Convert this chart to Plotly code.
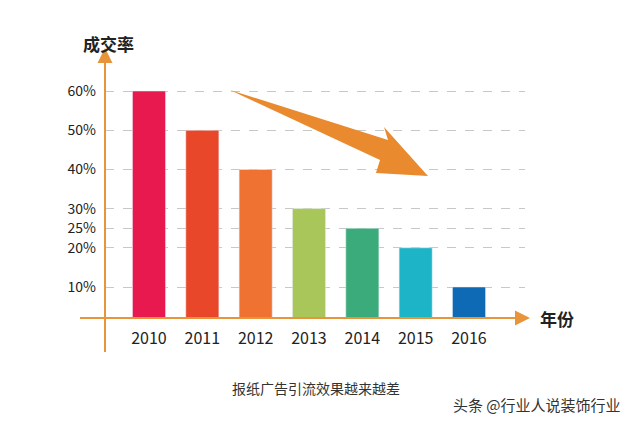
import plotly.graph_objects as go

years = ["2010", "2011", "2012", "2013", "2014", "2015", "2016"]
rates = [60, 50, 40, 30, 25, 20, 10]
colors = ["#E8194F", "#E8472A", "#F07232", "#A9C65A", "#3CAB7B", "#1DB4C8", "#0F6AB5"]
tick_vals = [10, 20, 25, 30, 40, 50, 60]
tick_text = ["10%", "20%", "25%", "30%", "40%", "50%", "60%"]

# target pixel frame (page has an 8px body margin)
L, R, T, B = 105, 525, 55, 318
OFF = 8
W, H = 640 - OFF, 424 - OFF


def px(x, y):
    return (x - L) / (R - L), (B - y) / (B - T)


fig = go.Figure(go.Bar(x=years, y=rates, marker_color=colors, width=0.62))

# big downward arrow
pts = [(230, 90), (388, 140), (384, 127), (428, 176), (376, 173), (380, 160)]
path = "M " + " L ".join("%.4f,%.4f" % px(*p) for p in pts) + " Z"
axis_color = "#E8943A"
shapes = [
    dict(type="path", xref="paper", yref="paper", path=path,
         fillcolor="#E98A2E", line_width=0),
    dict(type="line", xref="paper", yref="paper", x0=0, x1=0,
         y0=px(0, 352)[1], y1=px(0, 55)[1], line=dict(color=axis_color, width=2)),
    dict(type="line", xref="paper", yref="paper", x0=px(80, 0)[0], x1=px(522, 0)[0],
         y0=0, y1=0, line=dict(color=axis_color, width=2)),
]


def label(x, y, text, size, color="#222"):
    return dict(x=px(x, 0)[0], y=px(0, y)[1], xref="paper", yref="paper", text=text,
                xanchor="center", yanchor="middle", showarrow=False,
                font=dict(size=size, color=color))


ann = [
    dict(x=0, y=px(0, 48)[1], ax=0, ay=14, xref="paper", yref="paper", text="",
         showarrow=True, arrowhead=2, arrowsize=1.5, arrowwidth=2, arrowcolor=axis_color),
    dict(x=px(530, 0)[0], y=0, ax=-14, ay=0, xref="paper", yref="paper", text="",
         showarrow=True, arrowhead=2, arrowsize=1.5, arrowwidth=2, arrowcolor=axis_color),
    label(108, 44, "<b>成交率</b>", 17),
    label(557, 318, "<b>年份</b>", 17),
    label(316, 388, "报纸广告引流效果越来越差", 14, "#333"),
    label(537, 404, "头条 @行业人说装饰行业", 15, "#333"),
]

fig.update_layout(
    width=W, height=H, margin=dict(l=L - OFF, r=W - (R - OFF), t=T - OFF, b=H - (B - OFF)),
    paper_bgcolor="white", plot_bgcolor="white", showlegend=False,
    font=dict(family="Noto Sans CJK SC", size=16, color="#222"),
    shapes=shapes, annotations=ann,
    xaxis=dict(range=[-0.825, 7.05], showline=False, showgrid=False, ticks="",
               tickfont=dict(size=16, color="#222"), ticklabelstandoff=9),
    yaxis=dict(range=[2.09, 69.2], tickvals=tick_vals, ticktext=tick_text,
               showline=False, zeroline=False, gridcolor="#C8C8C8", griddash="dash",
               gridwidth=1, tickfont=dict(size=14, color="#222"), ticklabelstandoff=8),
)
fig.write_html("out.html")
